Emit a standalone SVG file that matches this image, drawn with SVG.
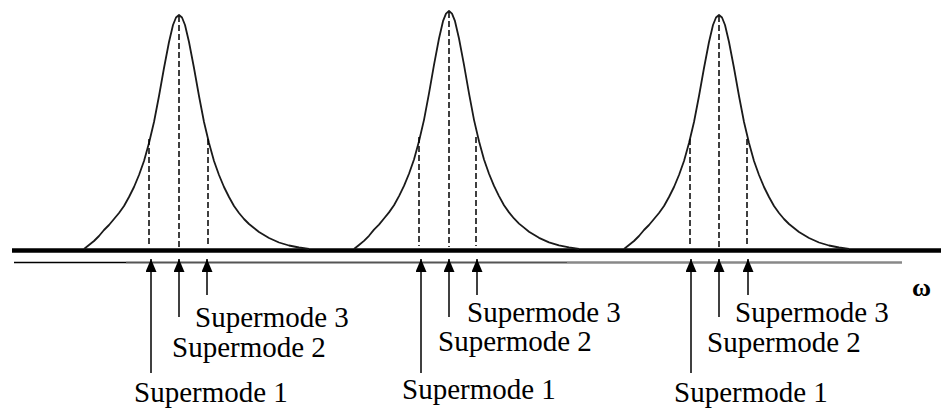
<svg xmlns="http://www.w3.org/2000/svg" xmlns:xlink="http://www.w3.org/1999/xlink" width="941" height="410" viewBox="0 0 941 410">
<style>
.curve{fill:none;stroke:#1a1a1a;stroke-width:1.8;stroke-linejoin:round;}
.dash{stroke:#000;stroke-width:1.5;stroke-dasharray:6,3;}
.arr{stroke:#000;stroke-width:1.5;marker-end:url(#ah);}
.lbl{font-family:"Liberation Serif","Times New Roman",serif;font-size:29px;fill:#000;}
</style>
<defs>
<marker id="ah" markerUnits="userSpaceOnUse" markerWidth="14" markerHeight="12" refX="13" refY="5.5" orient="auto">
<path d="M0,0 L13,5.5 L0,11 z" fill="#000"/>
</marker>
<path id="peak" class="curve" vector-effect="non-scaling-stroke" d="M-95,0 L-90,-4 L-85,-8 L-80,-13 L-75,-19 L-70,-24 L-65,-30 L-60,-36 L-55,-43 L-50,-52 L-45,-62 L-40,-74 L-35,-88 L-30,-106 L-25,-127 L-20,-153 L-15,-181 L-10,-207 L-6,-224 L-3,-231.5 L0,-234 L3,-231.5 L6,-224 L10,-207 L15,-181 L20,-153 L25,-127 L30,-106 L35,-88 L40,-74 L45,-62 L50,-52 L55,-43 L60,-36 L65,-30 L70,-25 L75,-21 L80,-17 L90,-11 L100,-6.5 L110,-3.5 L120,-1.5 L130,0"/>
</defs>
<rect width="941" height="410" fill="#fff"/>
<g id="axis">
<line x1="12" y1="250.5" x2="941" y2="250.5" stroke="#000" stroke-width="4.5"/>
<line x1="14" y1="262.5" x2="126" y2="262.5" stroke="#000" stroke-width="1.5"/>
<line x1="126" y1="262.5" x2="567" y2="262.5" stroke="#555" stroke-width="1.8"/>
<line x1="567" y1="262.5" x2="902" y2="262.5" stroke="#888" stroke-width="2.5"/>
<text x="912" y="296" font-family="Liberation Serif,serif" font-weight="bold" font-size="26">ω</text>
</g>
<g id="peak1">
<use xlink:href="#peak" transform="translate(179,249)"/>
<line class="dash" x1="149" y1="139" x2="149" y2="246"/>
<line class="dash" x1="179" y1="16" x2="179" y2="247"/>
<line class="dash" x1="208" y1="139" x2="208" y2="246"/>
</g>
<g id="peak2">
<use xlink:href="#peak" transform="translate(449,249) scale(1,1.017)"/>
<line class="dash" x1="419" y1="137" x2="419" y2="246"/>
<line class="dash" x1="449" y1="12" x2="449" y2="247"/>
<line class="dash" x1="476" y1="137" x2="476" y2="246"/>
</g>
<g id="peak3">
<use xlink:href="#peak" transform="translate(719,249)"/>
<line class="dash" x1="690" y1="139" x2="690" y2="246"/>
<line class="dash" x1="719" y1="16" x2="719" y2="247"/>
<line class="dash" x1="747" y1="139" x2="747" y2="246"/>
</g>
<g id="connectors">
<line class="arr" x1="151" y1="373" x2="151" y2="259"/>
<line class="arr" x1="179" y1="317" x2="179" y2="259"/>
<line class="arr" x1="207" y1="295" x2="207" y2="259"/>
<line class="arr" x1="421" y1="373" x2="421" y2="259"/>
<line class="arr" x1="449" y1="317" x2="449" y2="259"/>
<line class="arr" x1="477" y1="295" x2="477" y2="259"/>
<line class="arr" x1="691" y1="373" x2="691" y2="259"/>
<line class="arr" x1="719" y1="317" x2="719" y2="259"/>
<line class="arr" x1="748" y1="295" x2="748" y2="259"/>
</g>
<g id="labels1">
<text class="lbl" x="195" y="327">Supermode 3</text>
<text class="lbl" x="172" y="357">Supermode 2</text>
<text class="lbl" x="134" y="402">Supermode 1</text>
</g>
<g id="labels2">
<text class="lbl" x="467" y="322">Supermode 3</text>
<text class="lbl" x="438" y="351">Supermode 2</text>
<text class="lbl" x="402" y="399">Supermode 1</text>
</g>
<g id="labels3">
<text class="lbl" x="735" y="322">Supermode 3</text>
<text class="lbl" x="707" y="352">Supermode 2</text>
<text class="lbl" x="674" y="402">Supermode 1</text>
</g>
</svg>
